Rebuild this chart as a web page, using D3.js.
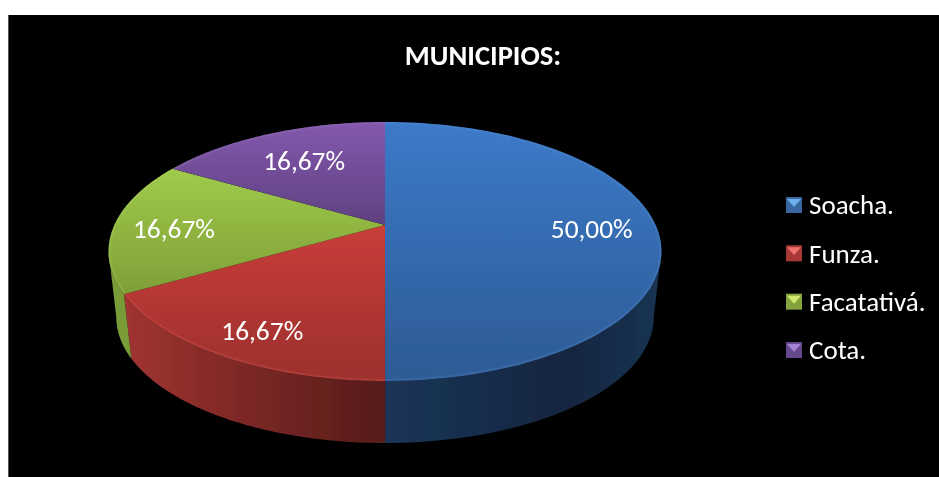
<!DOCTYPE html>
<html><head><meta charset="utf-8">
<script src="https://cdn.jsdelivr.net/npm/d3@7"></script>
<style>html,body{margin:0;padding:0;background:#fff}svg{display:block}</style></head>
<body><svg id="c" width="939" height="477"></svg>
<script>
const chartTitle = "MUNICIPIOS:";
const categories = ["Soacha.", "Funza.", "Facatativá.", "Cota."];
const values = [50, 16.67, 16.67, 16.67];
const valueLabels = ["50,00%", "16,67%", "16,67%", "16,67%"];
const topLight = ["#3c7ac9", "#c93d39", "#9fcb4a", "#8358ad"];
const topDark = ["#2d5a94", "#9c302d", "#7f9e38", "#5e4180"];
const rimColors = ["#5a90d8", "#e0605a", "#b5d868", "#9a78c0"];
const legendLight = ["#6fb0ee", "#ee6f6a", "#d0ea70", "#a583d0"];
const legendBase = ["#37689f", "#a83835", "#84a33e", "#654a8c"];
const labelRadius = [0.764, 0.82, 0.78, 0.65];
const labelNudge = [[0, 0], [7, -1], [0, 0], [-2, -5]];
const wallStops = [
  [[0, "#1b3558"], [0.65, "#14263f"], [1, "#1a3353"]],
  [[0, "#a13431"], [0.45, "#7d2826"], [1, "#561b19"]],
  [[0, "#7a9c38"], [1, "#6a8a30"]]
];

const W = 939, H = 477;
const cx = 385, hubY = 225, rxP = 270.6, ryP = 124.07, p = 0.2046;
const bottomScale = 0.972, bottomHubY = 291.4;
const font = "Calibri, Carlito, 'Open Sans', sans-serif";
const svg = d3.select("#c");
const defs = svg.append("defs");

svg.append("rect").attr("width", W).attr("height", H).attr("fill", "#fff");
svg.append("rect").attr("x", 8).attr("y", 15).attr("width", W - 8).attr("height", H - 15).attr("fill", "#000");
svg.append("rect").attr("x", 8).attr("y", 15).attr("width", 1).attr("height", H - 15).attr("fill", "#555");

const soft = defs.append("filter").attr("id", "soft").attr("x", "-5%").attr("y", "-5%").attr("width", "110%").attr("height", "110%");
soft.append("feGaussianBlur").attr("stdDeviation", 0.6);
const textSoft = defs.append("filter").attr("id", "textSoft").attr("x", "-5%").attr("y", "-15%").attr("width", "110%").attr("height", "130%");
textSoft.append("feGaussianBlur").attr("stdDeviation", 0.35);
const rimBlur = defs.append("filter").attr("id", "rimBlur");
rimBlur.append("feGaussianBlur").attr("stdDeviation", 1);

const chart = svg.append("g").attr("filter", "url(#soft)");

// projective view of the pie's circle
const proj = (a, r = 1, sc = 1, y0 = hubY) => {
  const u = r * Math.sin(a), v = r * Math.cos(a), w = 1 + p * v;
  return [cx + sc * rxP * u / w, y0 - sc * ryP * v / w];
};
const pie = d3.pie().sort(null).value(d => d)(values);
const line = d3.line();
const samples = (a0, a1, n = 90) => d3.range(0, n + 1).map(k => a0 + (a1 - a0) * k / n);

// side wall: visible between the silhouette tangents
const aRight = Math.acos(-p), aLeft = 2 * Math.PI - aRight;
pie.slice(0, 3).forEach((d, i) => {
  const a0 = Math.max(d.startAngle, aRight), a1 = Math.min(d.endAngle, aLeft);
  if (a1 <= a0) return;
  const as = samples(a0, a1);
  const pts = as.map(a => proj(a)).concat(as.slice().reverse().map(a => proj(a, 1, bottomScale, bottomHubY)));
  const xs = pts.map(q => q[0]);
  const id = "w" + i;
  const g = defs.append("linearGradient").attr("id", id).attr("gradientUnits", "userSpaceOnUse")
    .attr("x1", i === 0 ? cx : d3.min(xs)).attr("x2", i === 0 ? d3.max(xs) : cx).attr("y1", 0).attr("y2", 0);
  wallStops[i].forEach(s => g.append("stop").attr("offset", s[0]).attr("stop-color", s[1]));
  chart.append("path").attr("d", line(pts) + "Z").attr("fill", `url(#${id})`);
});

// top face
pie.forEach((d, i) => {
  const arcPts = samples(d.startAngle, d.endAngle).map(a => proj(a));
  const poly = [[cx, hubY], ...arcPts];
  const ys = poly.map(q => q[1]);
  const id = "t" + i;
  const g = defs.append("linearGradient").attr("id", id).attr("gradientUnits", "userSpaceOnUse")
    .attr("x1", 0).attr("x2", 0).attr("y1", d3.min(ys)).attr("y2", d3.max(ys));
  g.append("stop").attr("offset", 0).attr("stop-color", topLight[i]);
  g.append("stop").attr("offset", 1).attr("stop-color", topDark[i]);
  const dPath = line(poly) + "Z";
  chart.append("path").attr("d", dPath).attr("fill", `url(#${id})`);
  defs.append("clipPath").attr("id", "cl" + i).append("path").attr("d", dPath);
  chart.append("g").attr("clip-path", `url(#cl${i})`).append("path")
    .attr("d", line(arcPts)).attr("fill", "none")
    .attr("stroke", rimColors[i]).attr("stroke-width", 3).attr("stroke-opacity", 0.4)
    .attr("filter", "url(#rimBlur)");
});

// value labels
pie.forEach((d, i) => {
  const [x, y] = proj((d.startAngle + d.endAngle) / 2, labelRadius[i]);
  svg.append("text").attr("x", x + labelNudge[i][0]).attr("y", y + 3 + labelNudge[i][1]).attr("dy", "0.35em").attr("text-anchor", "middle")
    .attr("fill", "#fff").attr("font-family", font).attr("font-size", 27.4).attr("filter", "url(#textSoft)").text(valueLabels[i]);
});

// title
svg.append("text").attr("x", 483).attr("y", 65).attr("text-anchor", "middle")
  .attr("fill", "#fff").attr("font-family", font).attr("font-weight", 700).attr("font-size", 28.6).attr("filter", "url(#textSoft)").text(chartTitle);

// legend
const legendY = d3.scalePoint().domain(categories).range([205, 350]);
categories.forEach((c, i) => {
  const y = legendY(c), s = 8, lx = 794;
  const g = svg.append("g").attr("filter", "url(#soft)");
  g.append("rect").attr("x", lx - s).attr("y", y - s).attr("width", 2 * s).attr("height", 2 * s).attr("fill", legendBase[i]);
  g.append("path").attr("d", line([[lx - s + 1, y - s + 2], [lx + s - 1, y - s + 2], [lx, y + 2]]) + "Z").attr("fill", legendLight[i]);
  svg.append("text").attr("x", 809).attr("y", y).attr("dy", "0.35em")
    .attr("fill", "#fff").attr("font-family", font).attr("font-size", 27).attr("filter", "url(#textSoft)").text(c);
});
</script></body></html>
